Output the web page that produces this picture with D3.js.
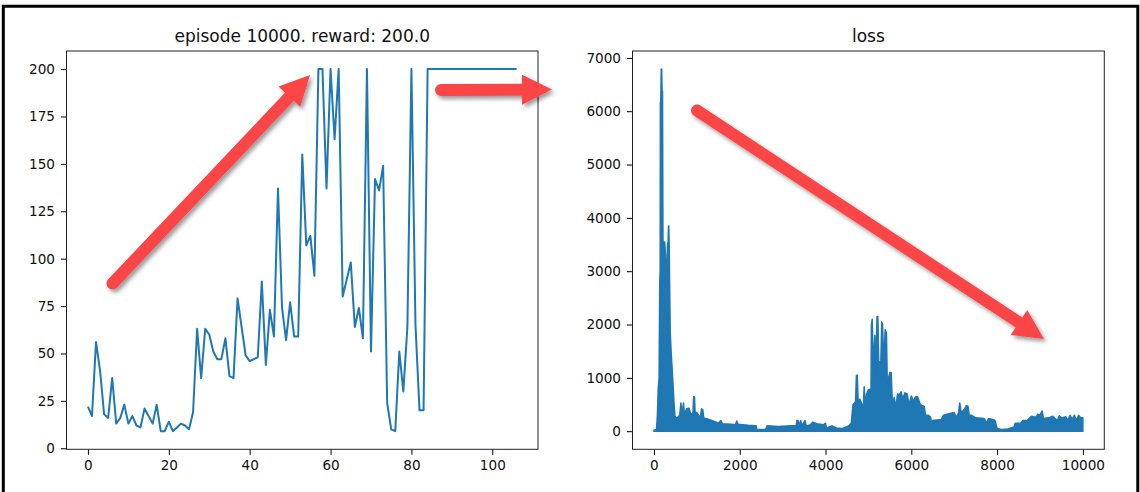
<!DOCTYPE html>
<html>
<head>
<meta charset="utf-8">
<script src="https://cdn.jsdelivr.net/npm/d3@7"></script>
<style>
  body { margin: 0; background: #fff; }
  svg text { font-family: "DejaVu Sans", sans-serif; }
</style>
</head>
<body>
<div id="chart"></div>
<script>
// reward per episode (left panel)
const rewards = [22, 17, 56, 41, 18, 16, 37, 13, 16, 23, 13, 17, 12, 11, 21, 17, 13, 23, 9, 9,
  14, 9, 11, 13, 12, 10, 19, 63, 37, 63, 60, 51, 47, 47, 58, 38, 37, 79, 64, 49,
  46, 47, 48, 88, 44, 73, 59, 137, 74, 57, 77, 59, 59, 155, 107, 112, 91, 200, 200, 137,
  200, 163, 200, 80, 89, 98, 64, 74, 58, 200, 51, 142, 136, 149, 24, 10, 9, 51, 30, 64,
  200, 65, 20, 20, 200, 200, 200, 200, 200, 200, 200, 200, 200, 200, 200, 200, 200, 200, 200, 200,
  200, 200, 200, 200, 200, 200, 200];

// loss (right panel): 10000 steps drawn as a dense band, kept as its upper envelope
const lossSteps = [0, 60, 80, 100, 120, 135, 145, 150, 160, 170, 180, 190, 200, 210, 230, 250, 270, 285, 300, 315,
  330, 340, 345, 355, 365, 380, 400, 440, 470, 490, 520, 560, 600, 630, 650, 690, 710, 760, 820, 860,
  910, 925, 945, 960, 1000, 1080, 1110, 1140, 1160, 1250, 1350, 1500, 1560, 1600, 1800, 1900, 1930, 1960, 2200, 2380,
  2400, 2600, 2640, 2900, 3200, 3320, 3330, 3360, 3380, 3420, 3450, 3520, 3550, 3650, 3700, 3800, 3950, 4000, 4020, 4150,
  4250, 4400, 4540, 4600, 4640, 4700, 4720, 4740, 4760, 4800, 4850, 4880, 4900, 4930, 4960, 5000, 5060, 5070, 5090, 5110,
  5150, 5170, 5200, 5220, 5240, 5290, 5310, 5330, 5360, 5390, 5420, 5440, 5500, 5530, 5560, 5600, 5640, 5680, 5720, 5760,
  5800, 5850, 5900, 5950, 6000, 6050, 6100, 6150, 6200, 6240, 6300, 6330, 6400, 6450, 6480, 6500, 6700, 6750, 6900, 7000,
  7050, 7100, 7130, 7160, 7250, 7280, 7320, 7350, 7400, 7500, 7700, 7750, 7800, 7900, 7950, 8000, 8100, 8250, 8400, 8420,
  8550, 8600, 8700, 8800, 8900, 8950, 9000, 9050, 9080, 9200, 9300, 9400, 9450, 9500, 9600, 9650, 9700, 9750, 9800, 9850,
  9900, 9950, 9999];
const lossHigh = [20, 30, 300, 800, 1000, 2800, 3000, 6150, 6200, 6790, 6790, 6350, 6380, 3600, 3400, 3550, 3300, 2850, 2850, 3500,
  3550, 3850, 3850, 3500, 2800, 1850, 1500, 950, 500, 280, 250, 260, 300, 530, 300, 530, 300, 420, 430, 300,
  350, 650, 640, 350, 350, 250, 420, 400, 250, 230, 200, 150, 200, 140, 130, 120, 190, 130, 110, 100,
  30, 30, 100, 90, 100, 100, 200, 200, 100, 200, 100, 200, 100, 120, 170, 140, 120, 150, 60, 100,
  60, 50, 100, 150, 500, 550, 1050, 1050, 550, 600, 500, 400, 830, 500, 700, 780, 780, 2000, 2100, 1200,
  1800, 1000, 2150, 2150, 1300, 1300, 2050, 2000, 1200, 1900, 1850, 900, 1100, 1100, 500, 630, 450, 700, 680, 740,
  600, 720, 700, 500, 660, 560, 650, 640, 520, 480, 470, 300, 300, 260, 100, 200, 220, 300, 330, 350,
  250, 350, 530, 350, 420, 480, 470, 300, 300, 250, 240, 150, 240, 220, 200, 50, 30, 40, 80, 150,
  150, 200, 200, 280, 260, 320, 300, 380, 240, 250, 280, 200, 290, 250, 270, 200, 300, 220, 300, 200,
  300, 250, 250];

const rewardYTicks = [0, 25, 50, 75, 100, 125, 150, 175, 200];
const rewardXTicks = [0, 20, 40, 60, 80, 100];
const lossYTicks = [0, 1000, 2000, 3000, 4000, 5000, 6000, 7000];
const lossXTicks = [0, 2000, 4000, 6000, 8000, 10000];

const rewardTitle = "episode 10000. reward: 200.0";
const lossTitle = "loss";

const W = 1140, H = 492;
const blue = "#1f77b4", red = "#fb4446";

const svg = d3.select("#chart").append("svg")
    .attr("width", W)
    .attr("height", H);

// drop shadow for the red arrows
const defs = svg.append("defs");
defs.append("filter")
    .attr("id", "shadow")
    .attr("x", "-20%").attr("y", "-20%")
    .attr("width", "140%").attr("height", "140%")
    .append("feDropShadow")
    .attr("dx", 2.5).attr("dy", 3)
    .attr("stdDeviation", 2.2)
    .attr("flood-color", "#000")
    .attr("flood-opacity", 0.4);

// outer frame of the screenshot
svg.append("path")
    .attr("d", `M3.3,${H + 5}V6.2H1137.8V${H + 5}`)
    .attr("fill", "none")
    .attr("stroke", "#000")
    .attr("stroke-width", 3);

// matplotlib style 5% margins
function padded(ext) {
    const p = (ext[1] - ext[0]) * 0.05;
    return [ext[0] - p, ext[1] + p];
}

function panel(box, xDomain, yDomain, xTicks, yTicks, title) {
    const x = d3.scaleLinear().domain(xDomain).range([box.left, box.right]);
    const y = d3.scaleLinear().domain(yDomain).range([box.bottom, box.top]);

    const g = svg.append("g");

    g.append("g")
        .attr("transform", `translate(0,${box.bottom})`)
        .call(d3.axisBottom(x).tickValues(xTicks).tickFormat(d3.format("d"))
            .tickSize(5.5).tickPadding(6).tickSizeOuter(0))
        .call(a => a.select(".domain").remove())
        .call(a => a.selectAll("text").attr("font-size", 13.6).attr("fill", "#111").attr("font-family", "DejaVu Sans"));

    g.append("g")
        .attr("transform", `translate(${box.left},0)`)
        .call(d3.axisLeft(y).tickValues(yTicks).tickFormat(d3.format("d"))
            .tickSize(5.5).tickPadding(6).tickSizeOuter(0))
        .call(a => a.select(".domain").remove())
        .call(a => a.selectAll("text").attr("font-size", 13.6).attr("fill", "#111").attr("font-family", "DejaVu Sans"));

    g.append("text")
        .attr("x", (box.left + box.right) / 2)
        .attr("y", box.top - 9.5)
        .attr("text-anchor", "middle")
        .attr("font-size", 17)
        .attr("fill", "#111")
        .text(title);

    const plot = g.append("g");

    // spines
    g.append("rect")
        .attr("x", box.left).attr("y", box.top)
        .attr("width", box.right - box.left)
        .attr("height", box.bottom - box.top)
        .attr("fill", "none")
        .attr("stroke", "#222")
        .attr("stroke-width", 1);

    return { x, y, plot };
}

// left: reward per episode
const left = panel({ left: 66.5, right: 538, top: 51, bottom: 449.3 },
    padded([0, rewards.length - 1]), padded(d3.extent(rewards)),
    rewardXTicks, rewardYTicks, rewardTitle);

left.plot.append("path")
    .datum(rewards)
    .attr("fill", "none")
    .attr("stroke", blue)
    .attr("stroke-width", 2)
    .attr("stroke-linejoin", "round")
    .attr("d", d3.line()
        .x((d, i) => left.x(i))
        .y(d => left.y(d)));

// right: loss
const lossData = d3.zip(lossSteps, lossHigh);
const right = panel({ left: 632.5, right: 1104.3, top: 51, bottom: 449.3 },
    padded([0, 9999]), padded([0, d3.max(lossHigh)]),
    lossXTicks, lossYTicks, lossTitle);

right.plot.append("path")
    .datum(lossData)
    .attr("fill", blue)
    .attr("stroke", blue)
    .attr("stroke-width", 1.5)
    .attr("stroke-linejoin", "round")
    .attr("d", d3.area()
        .x(d => right.x(d[0]))
        .y0(_ => right.y(0))
        .y1(d => right.y(d[1])));

// red annotation arrows (pixel positions on the page)
const arrows = [
    { from: [112.5, 283.5], to: [310, 75] },
    { from: [441, 90], to: [552, 89.5] },
    { from: [697, 110.5], to: [1044, 339] }
];
const headLen = 30, headW = 30, shaftW = 12;

const arrowG = svg.append("g").attr("filter", "url(#shadow)");
arrows.forEach(a => {
    const dx = a.to[0] - a.from[0], dy = a.to[1] - a.from[1];
    const len = Math.hypot(dx, dy);
    const ux = dx / len, uy = dy / len;
    const bx = a.to[0] - ux * headLen, by = a.to[1] - uy * headLen;
    const g = arrowG.append("g");
    g.append("line")
        .attr("x1", a.from[0]).attr("y1", a.from[1])
        .attr("x2", bx + ux * 2).attr("y2", by + uy * 2)
        .attr("stroke", red)
        .attr("stroke-width", shaftW)
        .attr("stroke-linecap", "round");
    g.append("path")
        .attr("d", `M${a.to[0]},${a.to[1]}L${bx - uy * headW / 2},${by + ux * headW / 2}L${bx + uy * headW / 2},${by - ux * headW / 2}Z`)
        .attr("fill", red);
});
</script>
</body>
</html>
